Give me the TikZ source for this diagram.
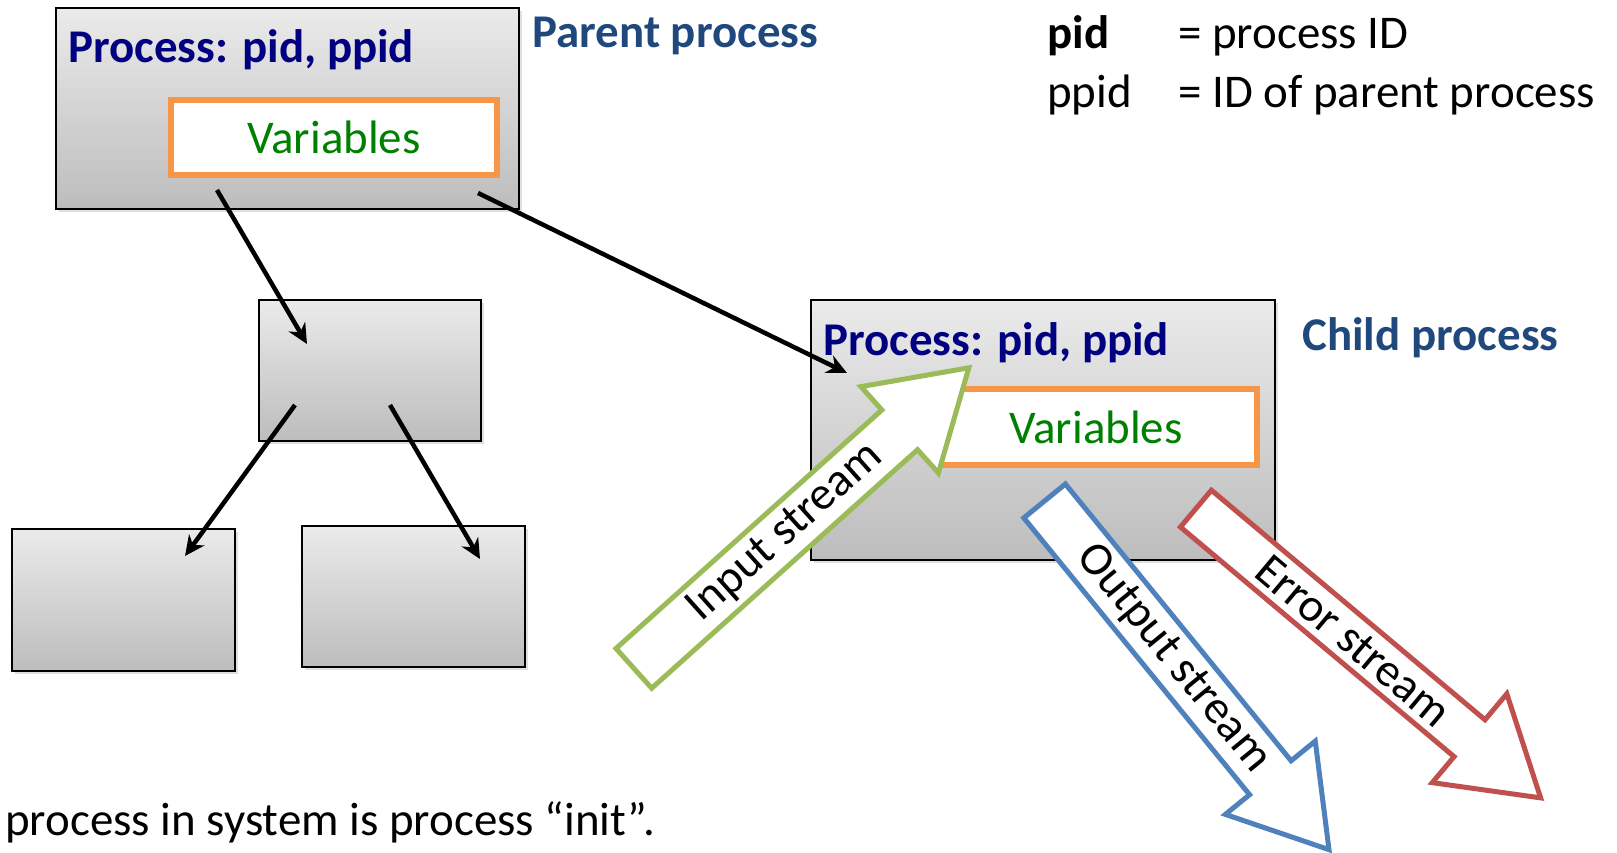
\documentclass[tikz,border=0pt]{standalone}
\usepackage{fontspec}
\setmainfont{Carlito}
\usetikzlibrary{arrows.meta,calc,shapes.arrows,shadows}

\definecolor{procblue}{RGB}{0,0,128}
\definecolor{headblue}{RGB}{31,73,125}
\definecolor{varorange}{RGB}{247,150,70}
\definecolor{vargreen}{RGB}{0,128,0}
\definecolor{instream}{RGB}{155,187,89}
\definecolor{outstream}{RGB}{79,129,189}
\definecolor{errstream}{RGB}{192,80,77}

\newcommand\slidefont{\fontsize{26.7}{32}\selectfont}

\tikzset{
  procbox/.style={draw=black, line width=0.4mm, top color=black!8, bottom color=black!26,
    inner sep=0pt, drop shadow={shadow xshift=0.6mm, shadow yshift=-0.6mm, opacity=0.25}},
  varbox/.style={draw=varorange, line width=1.1mm, fill=white, inner sep=0pt,
    text=vargreen, font=\slidefont},
  fork/.style={line width=0.9mm, -{Stealth[length=4mm,width=3.8mm]}},
  stream/.style={single arrow, draw=#1, fill=white, line width=1mm, minimum height=90mm,
    minimum width=23.2mm, single arrow head extend=5mm, single arrow tip angle=64,
    inner sep=0pt, text=black, font=\slidefont},
  proctitle/.style={anchor=base west, inner sep=0pt, text=procblue, font=\slidefont\bfseries},
  proclabel/.style={anchor=base west, inner sep=0pt, text=headblue, font=\slidefont\bfseries},
  plain/.style={anchor=base west, inner sep=0pt, font=\slidefont},
}

\begin{document}
\begin{tikzpicture}[x=0.2mm, y=-0.2mm]
\useasboundingbox (0,0) rectangle (1617,852);

% parent and its tree
\node[procbox, minimum width=92.6mm, minimum height=40.2mm] (parent) at (287.5,108.5) {};
\node[varbox, minimum width=65.2mm, minimum height=15mm] (pvars) at (334,137.5) {Variables};
\node[proctitle] (ptitle) at (68,62) {Process: pid, ppid};
\node[proclabel] (plabel) at (532,47) {Parent process};

\node[procbox, minimum width=44.4mm, minimum height=28.2mm] (mid) at (370,370.5) {};
\node[procbox, minimum width=44.6mm, minimum height=28.4mm] (left) at (123.5,600) {};
\node[procbox, minimum width=44.6mm, minimum height=28.2mm] (right) at (413.5,596.5) {};

% child process
\node[procbox, minimum width=92.8mm, minimum height=52mm] (child) at (1043,430) {};
\node[varbox, minimum width=64.4mm, minimum height=15.2mm] (cvars) at (1096,427) {Variables};
\node[proctitle] (ctitle) at (823,355) {Process: pid, ppid};
\node[proclabel] (clabel) at (1302,350) {Child process};

% legend
\node[plain, font=\slidefont\bfseries] (pid) at (1047,48) {pid};
\node[plain] (piddef) at (1178,48) {= process ID};
\node[plain] (ppid) at (1047,107) {ppid};
\node[plain] (ppiddef) at (1178,107) {= ID of parent process};

\node[plain] (init) at (5,835) {process in system is process “init”.};

% fork arrows
\draw[fork] ([shift={(162,-20)}]parent.south west) -- ([shift={(49,45)}]mid.north west);
\draw[fork] ([shift={(-42,-17)}]parent.south east) -- ([shift={(37,74)}]child.north west);
\draw[fork] ([shift={(37,-37)}]mid.south west) -- ([shift={(-51,28)}]left.north east);
\draw[fork] ([shift={(-92,-37)}]mid.south east) -- ([shift={(-46,34)}]right.north east);

% standard streams
\node[stream=instream, rotate=41.9, anchor=tail] (input) at (632,670) {Input stream};
\node[stream=outstream, rotate=-50.8, anchor=tail] (output) at (1043,499) {Output stream};
\node[stream=errstream, rotate=-40, anchor=tail] (error) at (1194,507) {Error stream};
\end{tikzpicture}
\end{document}
